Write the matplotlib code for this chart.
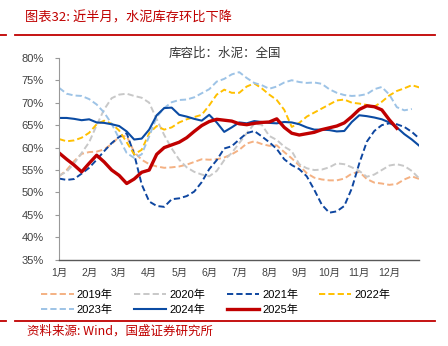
import numpy as np
import matplotlib.pyplot as plt
from matplotlib.lines import Line2D

plt.rcParams['font.family'] = ['Liberation Sans', 'Noto Sans CJK SC', 'DejaVu Sans']

# x positions in months from Jan 1, one point every quarter month
x = np.arange(49) * 0.25

y2019 = [53.6, 55.0, 57.0, 58.6, 59.0, 59.1, 59.6, 60.8, 62.4, 62.6, 59.0, 57.3,
         56.3, 55.8, 55.5, 55.6, 55.8, 56.2, 56.8, 57.4, 57.3, 57.4, 57.8, 58.5,
         59.5, 60.9, 61.4, 60.8, 60.4, 60.5, 59.0, 57.6, 56.0, 54.3, 53.3, 52.9,
         52.7, 52.7, 53.1, 54.2, 54.6, 53.0, 52.2, 52.0, 51.7, 51.9, 52.9, 53.6, 53.0]
y2020 = [53.8, 54.6, 56.5, 58.8, 61.2, 65.0, 68.5, 71.0, 71.8, 72.0, 71.5, 71.1,
         70.0, 66.3, 62.8, 59.8, 57.3, 55.6, 54.6, 54.0, 53.6, 54.8, 57.2, 58.8,
         61.0, 63.2, 65.3, 65.1, 62.6, 61.7, 60.2, 59.2, 56.3, 55.4, 55.0, 55.1,
         55.6, 56.5, 56.3, 55.6, 54.8, 53.5, 54.0, 55.0, 56.0, 56.3, 55.9, 54.8, 53.1]
y2021 = [53.1, 52.8, 53.0, 54.2, 55.5, 57.3, 59.2, 61.0, 62.4, 63.2, 58.5, 51.8,
         48.0, 47.0, 46.8, 48.5, 48.7, 49.2, 50.2, 52.3, 55.2, 57.2, 59.8, 60.3,
         61.8, 63.2, 63.7, 62.5, 61.2, 59.7, 57.4, 56.1, 55.2, 53.6, 50.6, 47.3,
         45.5, 45.8, 47.0, 50.9, 56.5, 61.3, 63.7, 65.0, 65.4, 65.2, 64.6, 63.5, 62.0]
y2022 = [61.9, 61.4, 61.6, 62.2, 63.3, 65.2, 66.0, 65.3, 63.8, 61.2, 58.5, 59.5,
         63.2, 64.8, 64.0, 64.5, 65.6, 66.3, 66.8, 67.3, 69.4, 71.8, 72.9, 72.2,
         72.2, 73.6, 74.3, 73.2, 71.8, 70.6, 68.4, 64.6, 65.5, 66.9, 67.8, 68.7,
         69.6, 70.5, 70.7, 70.0, 69.8, 69.5, 69.1, 70.2, 71.6, 72.6, 73.2, 73.9, 73.4]
y2023 = [73.3, 72.0, 71.6, 71.5, 70.8, 69.6, 67.8, 65.3, 62.0, 58.8, 57.7, 58.5,
         62.5, 66.8, 68.8, 70.1, 70.6, 70.7, 71.2, 72.1, 73.0, 74.7, 75.3, 76.3,
         76.8, 75.5, 74.4, 73.9, 73.1, 73.6, 74.5, 75.0, 74.6, 74.4, 74.5, 74.2,
         73.0, 72.2, 71.7, 71.5, 71.6, 71.9, 73.0, 73.5, 71.8, 69.0, 68.3, 68.6]
y2024 = [66.6, 66.6, 66.4, 66.1, 66.3, 65.6, 65.5, 65.2, 64.8, 63.6, 61.8, 62.0,
         64.0, 67.2, 68.8, 68.9, 67.3, 66.9, 66.4, 66.0, 67.3, 65.6, 63.5, 64.5,
         65.6, 65.4, 65.9, 65.7, 65.5, 65.4, 65.7, 65.6, 65.2, 64.5, 64.0, 64.0,
         63.9, 63.6, 63.7, 65.7, 67.2, 67.0, 66.7, 66.3, 65.6, 64.5, 63.0, 61.8, 60.4]
y2025 = [58.8, 57.4, 56.1, 54.6, 56.5, 58.3, 56.8, 55.0, 53.8, 52.0, 53.0, 54.5,
         55.0, 58.5, 60.0, 60.6, 61.2, 62.2, 63.6, 64.9, 65.8, 66.3, 66.1, 65.9,
         65.3, 65.1, 65.4, 65.6, 65.7, 66.4, 64.5, 63.2, 62.8, 63.1, 63.4, 64.0,
         64.4, 64.8, 65.5, 66.9, 68.5, 69.3, 69.1, 68.4, 66.2, 64.3]

months = ['1月', '2月', '3月', '4月', '5月', '6月', '7月', '8月', '9月', '10月', '11月', '12月']

fig = plt.figure(figsize=(4.48, 3.46), dpi=100)
ax = fig.add_axes([0.132, 0.249, 0.804, 0.584])

dash = (0, (3.2, 1.6))
ax.plot(x[:len(y2019)], y2019, color='#F4B183', lw=1.4, ls=dash, label='2019年')
ax.plot(x[:len(y2020)], y2020, color='#C8C8C8', lw=1.4, ls=dash, label='2020年')
ax.plot(x[:len(y2021)], y2021, color='#0E46A0', lw=1.4, ls=dash, label='2021年')
ax.plot(x[:len(y2022)], y2022, color='#FFC000', lw=1.4, ls=dash, label='2022年')
ax.plot(x[:len(y2023)], y2023, color='#9DC3E6', lw=1.4, ls=dash, label='2023年')
ax.plot(x[:len(y2024)], y2024, color='#0B4BA3', lw=1.5, label='2024年')
ax.plot(x[:len(y2025)], y2025, color='#C00000', lw=2.4, label='2025年')

ax.set_xlim(0, 12)
ax.set_ylim(35, 80)
ax.set_yticks(np.arange(35, 81, 5))
ax.set_yticklabels([f'{v}%' for v in range(35, 81, 5)], fontsize=8, color='#404040')
ax.set_xticks(np.arange(12))
ax.set_xticklabels(months, fontsize=7.5, color='#404040')
ax.tick_params(axis='x', length=0, pad=6)
ax.tick_params(axis='y', length=3, width=0.8, color='#999999', pad=8)
for s in ['top', 'right']:
    ax.spines[s].set_visible(False)
ax.spines['left'].set_color('#999999')
ax.spines['bottom'].set_color('#595959')
ax.spines['bottom'].set_linewidth(1.0)

ax.text(0.46, 1.022, '库容比：水泥：全国', transform=ax.transAxes, ha='center',
        va='center', fontsize=9, color='#333333', family=['Noto Sans CJK SC'])

# legend row-wise: matplotlib fills columns first, so reorder
handles, labels = ax.get_legend_handles_labels()
order = [0, 4, 1, 5, 2, 6, 3]
fig.legend([handles[i] for i in order], [labels[i] for i in order],
           loc='upper left', bbox_to_anchor=(0.075, 0.186), ncol=4, frameon=False,
           fontsize=8, handlelength=2.9, handletextpad=0.3, columnspacing=1.9,
           labelspacing=0.45, borderpad=0.2)

# header/footer decoration
fig.text(0.056, 0.948, '图表32: 近半月，水泥库存环比下降', fontsize=9.5, color='#C00000',
         ha='left', va='center', style='italic', family=['Noto Sans CJK SC'])
fig.text(0.06, 0.043, '资料来源: Wind，国盛证券研究所', fontsize=9, color='#C00000',
         ha='left', va='center', style='italic', family=['Noto Sans CJK SC'])
fig.add_artist(Line2D([0.0, 0.014], [0.899, 0.899], color='#C00000', lw=1.3))
fig.add_artist(Line2D([0.034, 0.972], [0.899, 0.899], color='#C00000', lw=1.3))
fig.add_artist(Line2D([0.0, 0.014], [0.073, 0.073], color='#C00000', lw=1.3))
fig.add_artist(Line2D([0.034, 0.972], [0.073, 0.073], color='#C00000', lw=1.3))

fig.savefig('out.png', dpi=100)
